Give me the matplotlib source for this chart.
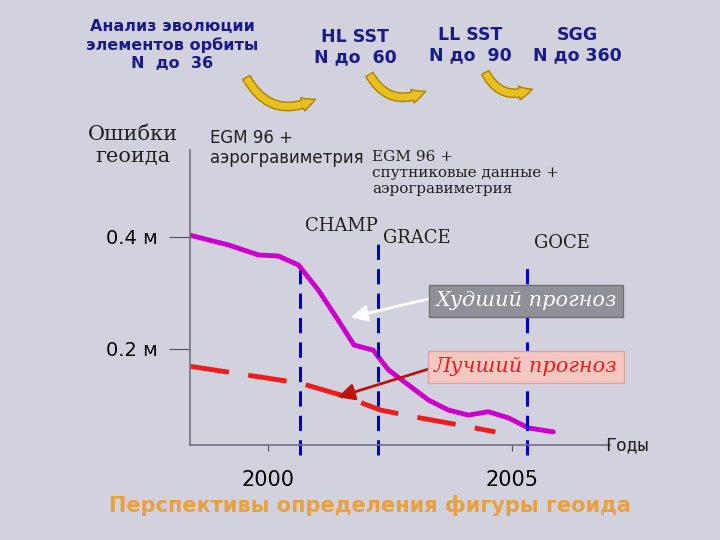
import matplotlib
matplotlib.use("Agg")
import matplotlib.pyplot as plt

worst_years = [1998.41, 1999.18, 1999.80, 2000.21, 2000.62, 2001.03, 2001.43, 2001.76, 2002.15, 2002.46, 2002.87, 2003.28, 2003.69, 2004.10, 2004.51, 2004.92, 2005.33, 2005.84]
worst_vals = [0.403, 0.386, 0.368, 0.366, 0.350, 0.305, 0.252, 0.207, 0.198, 0.163, 0.136, 0.109, 0.091, 0.082, 0.088, 0.077, 0.059, 0.052]
best_years = [1998.41, 2000.66, 2001.48, 2002.30, 2003.11, 2003.93, 2004.65]
best_vals = [0.169, 0.139, 0.118, 0.091, 0.077, 0.064, 0.052]
mission_years = [2000.66, 2002.25, 2005.31]
mission_tops = [0.341, 0.400, 0.355]
mission_names = ["CHAMP", "GRACE", "GOCE"]

W, H = 720, 540
fig = plt.figure(figsize=(7.2, 5.4), dpi=100)
fig.patch.set_facecolor("#d2d2de")
def fx(x): return x / W
def fy(y): return 1 - y / H

ax = fig.add_axes([fx(190), fy(445), (610 - 190) / W, (445 - 150) / H])
ax.set_facecolor("none")
ax.set_xlim(1998.4, 2007.0)
ax.set_ylim((461 - 445) / 560, (461 - 150) / 560)
for s in ["top", "right"]:
    ax.spines[s].set_visible(False)
for s in ["left", "bottom"]:
    ax.spines[s].set_color("#707080")
    ax.spines[s].set_linewidth(1.2)
ax.set_yticks([0.2, 0.4])
ax.set_yticklabels(["0.2 м", "0.4 м"], fontsize=14)
ax.tick_params(axis="y", length=15, color="#505060", pad=8)
ax.set_xticks([2000, 2005])
ax.set_xticklabels(["2000", "2005"], fontsize=15)
ax.tick_params(axis="x", length=4, color="#505060", pad=14)

ax.plot(worst_years, worst_vals, color="#cc00cc", lw=3.5, solid_capstyle="round")
ax.plot(best_years, best_vals, color="#ee1c1c", lw=3.5, dashes=(8, 4))
for yr, top, nm in zip(mission_years, mission_tops, mission_names):
    ax.plot([yr, yr], [0.01, top], color="#0000cc", lw=2.2, dashes=(5, 3), clip_on=False)
ax.text(2000.75, 0.41, "CHAMP", fontsize=13, family="DejaVu Serif", color="#202020", ha="left")
ax.text(2002.35, 0.39, "GRACE", fontsize=13, family="DejaVu Serif", color="#202020", ha="left")
ax.text(2005.45, 0.38, "GOCE", fontsize=13, family="DejaVu Serif", color="#202020", ha="left")

bold = dict(fontweight="bold", color="#1a1a8a")
fig.text(fx(172), fy(45), "Анализ эволюции\nэлементов орбиты\nN  до  36", ha="center", va="center", fontsize=11.5, linespacing=1.25, **bold)
fig.text(fx(355), fy(47), "HL SST\nN до  60", ha="center", va="center", fontsize=12.5, **bold)
fig.text(fx(470), fy(45), "LL SST\nN до  90", ha="center", va="center", fontsize=12.5, **bold)
fig.text(fx(577), fy(45), "SGG\nN до 360", ha="center", va="center", fontsize=12.5, **bold)
for x0, y0, x1, y1 in [(245, 75, 318, 98), (368, 72, 428, 90), (484, 70, 535, 88)]:
    fig.patches.append(matplotlib.patches.FancyArrowPatch(
        (fx(x0), fy(y0)), (fx(x1), fy(y1)), transform=fig.transFigure,
        connectionstyle="arc3,rad=0.5", arrowstyle="simple,head_width=10,head_length=10,tail_width=6",
        color="#e8c020", ec="#b08000"))

fig.text(fx(133), fy(145), "Ошибки\nгеоида", ha="center", va="center", fontsize=15, family="DejaVu Serif", color="#202020")
fig.text(fx(210), fy(148), "EGM 96 +\nаэрогравиметрия", ha="left", va="center", fontsize=12, color="#202020")
fig.text(fx(372), fy(173), "EGM 96 +\nспутниковые данные +\nаэрогравиметрия", ha="left", va="center", fontsize=11, family="DejaVu Serif", color="#202020")
fig.text(fx(605), fy(445), "Годы", ha="left", va="center", fontsize=13, family="DejaVu Sans Mono", color="#202020")
fig.text(fx(370), fy(505), "Перспективы определения фигуры геоида", ha="center", va="center", fontsize=15, fontweight="bold", color="#e8a040")

fig.text(fx(526), fy(301), "Худший прогноз", ha="center", va="center", fontsize=15, style="italic", family="DejaVu Serif", color="white",
         bbox=dict(boxstyle="square,pad=0.3", fc="#909098", ec="#707070"))
fig.text(fx(526), fy(367), "Лучший прогноз", ha="center", va="center", fontsize=15, style="italic", family="DejaVu Serif", color="#ee1c1c",
         bbox=dict(boxstyle="square,pad=0.3", fc="#f4c8c0", ec="#e0a0a0"))
fig.patches.append(matplotlib.patches.FancyArrowPatch((fx(432), fy(298)), (fx(348), fy(318)), transform=fig.transFigure,
    arrowstyle="-|>,head_width=5,head_length=10", color="white", lw=2))
fig.patches.append(matplotlib.patches.FancyArrowPatch((fx(432), fy(368)), (fx(335), fy(398)), transform=fig.transFigure,
    arrowstyle="-|>,head_width=5,head_length=10", color="#c01010", lw=2))

fig.savefig("out.png", dpi=100, facecolor=fig.get_facecolor())
